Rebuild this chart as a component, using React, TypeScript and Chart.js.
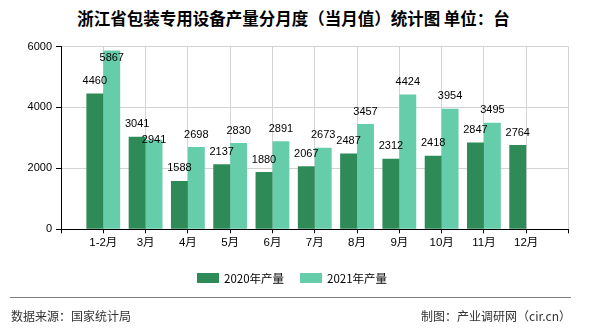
import React, { useEffect, useRef } from "react";
import { Chart, registerables } from "chart.js";

Chart.register(...registerables);

const categories = ["1-2月", "3月", "4月", "5月", "6月", "7月", "8月", "9月", "10月", "11月", "12月"];
const series2020 = [4460, 3041, 1588, 2137, 1880, 2067, 2487, 2312, 2418, 2847, 2764];
const series2021 = [5867, 2941, 2698, 2830, 2891, 2673, 3457, 4424, 3954, 3495, null];
const seriesNames = ["2020年产量", "2021年产量"];
const seriesColors = ["#2e8b57", "#66cdaa"];
const yTicks = [0, 2000, 4000, 6000];

const titleText = "浙江省包装专用设备产量分月度（当月值）统计图 单位：台";
const sourceText = "数据来源：国家统计局";
const creditText = "制图：产业调研网（cir.cn）";

const NUM_FONT = '"Liberation Sans", "Noto Sans CJK SC", sans-serif';
const CJK_FONT = '"Noto Sans CJK SC", "Liberation Sans", sans-serif';

const barLabelPlugin = {
  id: "barLabels",
  afterDatasetsDraw(chart: any) {
    const ctx = chart.ctx;
    const area = chart.chartArea;
    ctx.save();
    ctx.font = "11px " + NUM_FONT;
    ctx.fillStyle = "#000";
    ctx.textAlign = "center";
    ctx.textBaseline = "middle";
    const placed: { x: number; y: number; w: number }[] = [];
    const h = 11;
    const n = chart.data.labels.length;
    for (let i = 0; i < n; i++) {
      chart.data.datasets.forEach((ds: any, d: number) => {
        const v = ds.data[i];
        if (v == null) return;
        const el = chart.getDatasetMeta(d).data[i];
        const text = String(v);
        const w = ctx.measureText(text).width;
        let y = el.y - 12.5;
        if (y - h / 2 < area.top) {
          y = el.y + 7;
        } else if (
          placed.some((p) => Math.abs(p.x - el.x) < (p.w + w) / 2 - 1 && Math.abs(p.y - y) < h)
        ) {
          y = el.y;
        }
        ctx.fillText(text, el.x, y);
        placed.push({ x: el.x, y, w });
      });
    }
    ctx.restore();
  },
};

export default function App() {
  const canvasRef = useRef<HTMLCanvasElement | null>(null);

  useEffect(() => {
    const canvas = canvasRef.current;
    if (!canvas) return;
    const labels = ["", ...categories, ""];
    const chart = new Chart(canvas, {
      type: "bar",
      data: {
        labels,
        datasets: [
          {
            label: seriesNames[0],
            data: [null, ...series2020, null],
            backgroundColor: seriesColors[0],
            categoryPercentage: 0.8,
            barPercentage: 1.0,
          },
          {
            label: seriesNames[1],
            data: [null, ...series2021, null],
            backgroundColor: seriesColors[1],
            categoryPercentage: 0.8,
            barPercentage: 1.0,
          },
        ],
      },
      options: {
        animation: false,
        responsive: false,
        devicePixelRatio: 1,
        layout: { padding: { left: 0, right: 21.5, top: 46.5, bottom: 75.7 } },
        plugins: {
          legend: { display: false },
          title: { display: false },
          tooltip: { enabled: false },
        },
        scales: {
          x: {
            type: "category",
            offset: false,
            grid: { color: "#d3d3d3", offset: false, tickColor: "#000", tickLength: 4 },
            border: { color: "#000", width: 1 },
            ticks: {
              autoSkip: false,
              maxRotation: 0,
              color: "#000",
              padding: 3,
              font: { family: NUM_FONT, size: 11.5 },
            },
            afterFit: (s: any) => {
              s.height = 25;
            },
          },
          y: {
            min: 0,
            max: 6000,
            grid: { color: "#d3d3d3", tickColor: "#000", tickLength: 5 },
            border: { color: "#000", width: 1 },
            ticks: {
              color: "#000",
              padding: 4,
              font: { family: NUM_FONT, size: 11 },
              callback: (v: any) => String(v),
            },
            afterBuildTicks: (s: any) => {
              s.ticks = yTicks.map((v) => ({ value: v }));
            },
            afterFit: (s: any) => {
              s.width = 61;
            },
          },
        },
      },
      plugins: [barLabelPlugin],
    });
    return () => chart.destroy();
  }, []);

  return (
    <div
      style={{
        position: "fixed",
        left: 0,
        top: 0,
        width: 590,
        height: 330,
        background: "#fff",
        overflow: "hidden",
      }}
    >
      <div
        style={{
          position: "absolute",
          left: 0,
          top: 8,
          width: 587,
          textAlign: "center",
          fontFamily: CJK_FONT,
          fontSize: 16.5,
          fontWeight: 700,
          lineHeight: "20px",
          color: "#000",
          whiteSpace: "nowrap",
        }}
      >
        {titleText}
      </div>
      <canvas ref={canvasRef} width={590} height={330} style={{ position: "absolute", left: 0, top: 0 }} />
      <div
        style={{
          position: "absolute",
          left: 197,
          top: 270,
          height: 15,
          display: "flex",
          alignItems: "center",
          fontFamily: CJK_FONT,
          fontSize: 11.5,
          color: "#000",
          whiteSpace: "nowrap",
        }}
      >
        {seriesNames.map((name, i) => (
          <div key={name} style={{ display: "flex", alignItems: "center", marginRight: i === 0 ? 16 : 0 }}>
            <span style={{ display: "inline-block", width: 22, height: 10, background: seriesColors[i], marginRight: 5 }} />
            <span>{name}</span>
          </div>
        ))}
      </div>
      <div style={{ position: "absolute", left: 10, top: 297, width: 561, height: 1, background: "#808080" }} />
      <div
        style={{
          position: "absolute",
          left: 11,
          top: 308,
          fontFamily: CJK_FONT,
          fontSize: 12,
          lineHeight: "16px",
          color: "#333",
          whiteSpace: "nowrap",
        }}
      >
        {sourceText}
      </div>
      <div
        style={{
          position: "absolute",
          right: 19,
          top: 308,
          fontFamily: CJK_FONT,
          fontSize: 12,
          lineHeight: "16px",
          color: "#333",
          whiteSpace: "nowrap",
        }}
      >
        {creditText}
      </div>
    </div>
  );
}
